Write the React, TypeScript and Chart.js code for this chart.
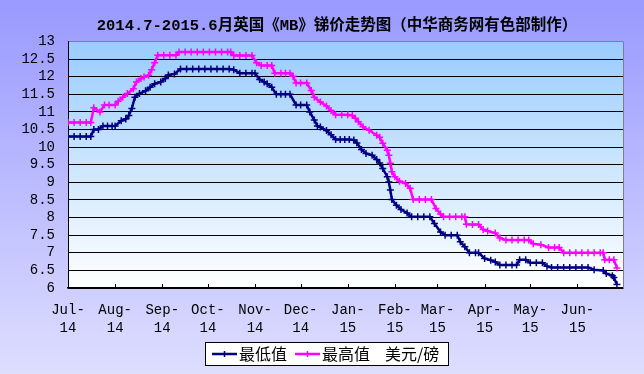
import React, { useEffect, useRef } from 'react';
import { Chart, registerables } from 'chart.js';

Chart.register(...registerables);

// ---- Data (x = days since 2014-07-01) ----
const TITLE = '2014.7-2015.6月英国《MB》锑价走势图（中华商务网有色部制作）';
const LOW_LABEL = '最低值';
const HIGH_LABEL = '最高值';
const UNIT_LABEL = '美元/磅';

const MONTH_START_DAYS = [0, 31, 62, 92, 123, 153, 184, 215, 243, 274, 304, 335];
const MONTH_LABELS = [
  ['Jul-', '14'], ['Aug-', '14'], ['Sep-', '14'], ['Oct-', '14'], ['Nov-', '14'], ['Dec-', '14'],
  ['Jan-', '15'], ['Feb-', '15'], ['Mar-', '15'], ['Apr-', '15'], ['May-', '15'], ['Jun-', '15'],
];
const X_MAX_DAY = 365;
const Y_MIN = 6;
const Y_MAX = 13;
const Y_STEP = 0.5;

const lowDays = [
  0, 4, 8, 12, 15, 17, 20, 23, 26, 29, 31, 35, 38, 40, 42, 44, 47, 51, 54, 57, 61, 64, 66, 70, 74,
  78, 82, 86, 90, 94, 98, 102, 106, 109, 113, 117, 121, 123, 126, 129, 131, 134, 137, 140, 143, 146,
  150, 153, 157, 159, 162, 164, 166, 170, 173, 176, 179, 182, 185, 188, 190, 193, 196, 200, 203, 205,
  207, 210, 211, 212, 213, 216, 219, 223, 226, 230, 234, 238, 241, 245, 248, 252, 256, 258, 261, 264,
  268, 270, 274, 278, 281, 284, 288, 292, 295, 297, 301, 304, 308, 312, 315, 318, 322, 326, 330, 334,
  338, 342, 346, 352, 354, 358, 359, 361,
];
const lowValues = [
  10.3, 10.3, 10.3, 10.3, 10.3, 10.5, 10.5, 10.6, 10.6, 10.6, 10.6, 10.75, 10.8, 10.9, 11.1, 11.42,
  11.52, 11.6, 11.7, 11.8, 11.85, 11.95, 12.05, 12.08, 12.22, 12.22, 12.22, 12.22, 12.22, 12.22,
  12.22, 12.22, 12.22, 12.2, 12.1, 12.1, 12.1, 12.1, 11.92, 11.85, 11.8, 11.7, 11.5, 11.5, 11.5, 11.5,
  11.2, 11.2, 11.2, 11.0, 10.77, 10.6, 10.57, 10.47, 10.35, 10.22, 10.22, 10.22, 10.22, 10.2, 10.12,
  9.93, 9.82, 9.77, 9.65, 9.55, 9.39, 9.16, 9.01, 8.78, 8.51, 8.35, 8.23, 8.13, 8.02, 8.02, 8.02, 8.02,
  7.83, 7.59, 7.5, 7.5, 7.5, 7.31, 7.17, 7.0, 7.0, 7.0, 6.84, 6.79, 6.74, 6.65, 6.65, 6.65, 6.65, 6.8,
  6.8, 6.72, 6.72, 6.72, 6.62, 6.58, 6.58, 6.58, 6.58, 6.58, 6.58, 6.58, 6.52, 6.5, 6.41, 6.35, 6.3, 6.1,
];

const highDays = [
  0, 4, 8, 12, 15, 17, 21, 24, 27, 31, 33, 36, 39, 43, 45, 48, 50, 53, 55, 57, 59, 63, 67, 71, 73, 77,
  81, 85, 89, 93, 97, 101, 105, 107, 109, 113, 117, 121, 124, 127, 131, 134, 136, 140, 143, 146, 148,
  150, 153, 157, 160, 162, 166, 170, 173, 176, 180, 184, 187, 189, 191, 194, 198, 203, 205, 207, 210,
  211, 212, 213, 215, 218, 222, 225, 227, 231, 235, 239, 242, 245, 247, 251, 255, 259, 261, 262, 266,
  270, 273, 276, 281, 284, 288, 292, 296, 300, 303, 306, 311, 316, 320, 323, 326, 330, 334, 338, 342,
  346, 350, 352, 353, 356, 359, 361,
];
const highValues = [
  10.7, 10.7, 10.7, 10.7, 10.7, 11.12, 11.0, 11.2, 11.2, 11.2, 11.3, 11.42, 11.52, 11.66, 11.85, 11.95,
  11.99, 12.04, 12.2, 12.4, 12.61, 12.61, 12.61, 12.61, 12.7, 12.7, 12.7, 12.7, 12.7, 12.7, 12.7, 12.7,
  12.7, 12.7, 12.6, 12.6, 12.6, 12.6, 12.4, 12.32, 12.32, 12.32, 12.1, 12.1, 12.1, 12.1, 12.01, 11.82,
  11.82, 11.82, 11.61, 11.42, 11.28, 11.17, 11.04, 10.92, 10.92, 10.92, 10.9, 10.82, 10.72, 10.58,
  10.48, 10.34, 10.28, 10.11, 9.91, 9.77, 9.54, 9.3, 9.16, 9.03, 8.97, 8.83, 8.51, 8.51, 8.51, 8.51,
  8.26, 8.1, 8.02, 8.02, 8.02, 8.02, 8.02, 7.81, 7.8, 7.8, 7.66, 7.62, 7.56, 7.42, 7.36, 7.36, 7.36,
  7.36, 7.36, 7.26, 7.23, 7.15, 7.15, 7.15, 7.0, 7.0, 7.0, 7.0, 7.0, 7.0, 7.0, 7.0, 6.8, 6.8, 6.8, 6.57,
];

const LOW_COLOR = '#000080';
const HIGH_COLOR = '#FF00FF';
const MONO = "'Liberation Mono', 'DejaVu Sans Mono', monospace";
const TITLE_FONT = "'Liberation Mono', 'Noto Sans CJK SC', monospace";
const CJK = "'Noto Sans CJK SC', 'Noto Sans', sans-serif";

function drawCross(ctx: CanvasRenderingContext2D, x: number, y: number, color: string) {
  ctx.save();
  ctx.strokeStyle = color;
  ctx.lineWidth = 1.5;
  ctx.beginPath();
  ctx.moveTo(x - 3.5, y);
  ctx.lineTo(x + 3.5, y);
  ctx.moveTo(x, y - 3);
  ctx.lineTo(x, y + 3);
  ctx.stroke();
  ctx.restore();
}

const decorPlugin = {
  id: 'decor',
  beforeDraw(chart: any) {
    const { ctx, width, height, chartArea: ca } = chart;
    ctx.save();
    const g = ctx.createLinearGradient(0, 0, 0, height);
    g.addColorStop(0, '#9999FF');
    g.addColorStop(1, '#DEDEFF');
    ctx.fillStyle = g;
    ctx.fillRect(0, 0, width, height);
    const pg = ctx.createLinearGradient(0, ca.top, 0, ca.bottom);
    pg.addColorStop(0, '#99CCFF');
    pg.addColorStop(1, '#FFFFFF');
    ctx.fillStyle = pg;
    ctx.fillRect(ca.left, ca.top, ca.right - ca.left, ca.bottom - ca.top);
    // title
    ctx.fillStyle = '#000000';
    ctx.font = `bold 15.5px ${TITLE_FONT}`;
    ctx.textAlign = 'center';
    ctx.textBaseline = 'middle';
    ctx.fillText(TITLE, 337, 26);
    ctx.restore();
  },
  afterDraw(chart: any) {
    const { ctx, chartArea: ca } = chart;
    const xScale = chart.scales.x;
    ctx.save();
    // right border of plot area
    ctx.strokeStyle = '#808080';
    ctx.lineWidth = 1;
    ctx.beginPath();
    ctx.moveTo(ca.right + 0.5, ca.top);
    ctx.lineTo(ca.right + 0.5, ca.bottom);
    ctx.stroke();
    // inner tick marks on the x axis
    ctx.strokeStyle = '#000000';
    ctx.beginPath();
    MONTH_START_DAYS.forEach((d, i) => {
      if (i === 0) return;
      const x = Math.round(xScale.getPixelForValue(d)) + 0.5;
      ctx.moveTo(x, ca.bottom);
      ctx.lineTo(x, ca.bottom - 4);
    });
    ctx.stroke();

    // legend
    const bx = 205, by = 342, bw = 243, bh = 23;
    ctx.fillStyle = '#FFFFFF';
    ctx.fillRect(bx, by, bw, bh);
    ctx.strokeStyle = '#000000';
    ctx.lineWidth = 1;
    ctx.strokeRect(bx + 0.5, by + 0.5, bw, bh);
    const cy = by + bh / 2 + 0.5;
    const items = [
      { color: LOW_COLOR, x0: bx + 7, text: LOW_LABEL },
      { color: HIGH_COLOR, x0: bx + 90, text: HIGH_LABEL },
    ];
    ctx.font = `16px ${CJK}`;
    ctx.textBaseline = 'middle';
    ctx.textAlign = 'left';
    items.forEach((it) => {
      ctx.strokeStyle = it.color;
      ctx.lineWidth = 2.5;
      ctx.beginPath();
      ctx.moveTo(it.x0, cy);
      ctx.lineTo(it.x0 + 25, cy);
      ctx.stroke();
      drawCross(ctx, it.x0 + 12.5, cy, it.color);
      ctx.fillStyle = '#000000';
      ctx.fillText(it.text, it.x0 + 27, cy);
    });
    ctx.fillText(UNIT_LABEL, bx + 180, cy);
    ctx.restore();
  },
};

export default function App() {
  const ref = useRef<HTMLCanvasElement | null>(null);

  useEffect(() => {
    document.body.style.margin = '0';
    const canvas = ref.current;
    if (!canvas) return;
    const chart = new Chart(canvas, {
      type: 'line',
      data: {
        datasets: [
          {
            label: LOW_LABEL,
            data: lowDays.map((d, i) => ({ x: d, y: lowValues[i] })),
            borderColor: LOW_COLOR,
            backgroundColor: LOW_COLOR,
            borderWidth: 2.5,
            pointStyle: 'cross',
            pointRadius: 3.5,
            pointBorderWidth: 1.5,
            tension: 0,
            fill: false,
          },
          {
            label: HIGH_LABEL + ' ' + UNIT_LABEL,
            data: highDays.map((d, i) => ({ x: d, y: highValues[i] })),
            borderColor: HIGH_COLOR,
            backgroundColor: HIGH_COLOR,
            borderWidth: 2.5,
            pointStyle: 'cross',
            pointRadius: 3.5,
            pointBorderWidth: 1.5,
            tension: 0,
            fill: false,
          },
        ],
      },
      options: {
        responsive: false,
        maintainAspectRatio: false,
        animation: false,
        devicePixelRatio: 1,
        layout: { padding: { left: 0, right: 21, top: 41.5, bottom: 36 } },
        plugins: {
          legend: { display: false },
          tooltip: { enabled: false },
          title: { display: false },
        },
        scales: {
          x: {
            type: 'linear',
            min: 0,
            max: X_MAX_DAY,
            afterBuildTicks: (scale: any) => {
              scale.ticks = MONTH_START_DAYS.map((v) => ({ value: v }));
            },
            afterFit: (scale: any) => {
              scale.height = 50;
            },
            grid: { display: false, drawTicks: false },
            border: { display: true, color: '#000000', width: 1.5 },
            ticks: {
              autoSkip: false,
              maxRotation: 0,
              minRotation: 0,
              padding: 14,
              color: '#000000',
              font: { family: MONO, size: 14, lineHeight: 1.25 },
              callback: (_v: any, index: number) => MONTH_LABELS[index] ?? '',
            },
          },
          y: {
            min: Y_MIN,
            max: Y_MAX,
            afterFit: (scale: any) => {
              scale.width = 68;
            },
            grid: {
              drawTicks: false,
              color: (c: any) => (c.tick && c.tick.value === Y_MAX ? '#808080' : '#000000'),
              lineWidth: 1,
            },
            border: { display: true, color: '#000000', width: 1 },
            ticks: {
              stepSize: Y_STEP,
              autoSkip: false,
              padding: 13,
              color: '#000000',
              font: { family: MONO, size: 14 },
              callback: (v: any) => (Number(v) % 1 === 0 ? String(v) : Number(v).toFixed(1)),
            },
          },
        },
      },
      plugins: [decorPlugin],
    } as any);
    return () => chart.destroy();
  }, []);

  return (
    <div style={{ width: 644, height: 374 }}>
      <canvas ref={ref} width={644} height={374} style={{ display: 'block', width: 644, height: 374 }} />
    </div>
  );
}
